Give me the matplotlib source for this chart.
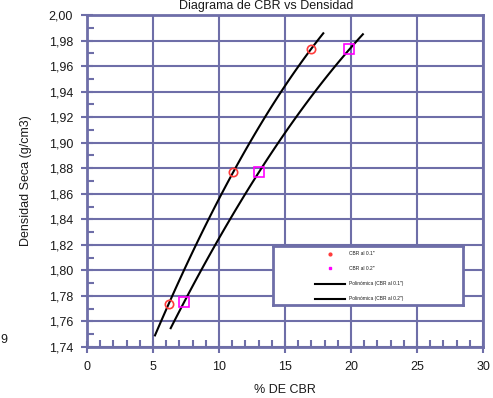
import numpy as np
import matplotlib.pyplot as plt
from matplotlib.ticker import MultipleLocator, FuncFormatter

# data
cbr_01 = [6.2, 11.08, 16.95]
dens_01 = [1.774, 1.877, 1.973]
cbr_02 = [7.35, 13.03, 19.87]
dens_02 = [1.775, 1.877, 1.973]
# extent of the trend lines (x from/to)
trend_01_range = [5.15, 17.9]
trend_02_range = [6.34, 20.9]

grid_col = '#6E6EA8'
plt.rcParams['font.family'] = ['Liberation Sans', 'DejaVu Sans']

fig = plt.figure(figsize=(4.93, 3.98), dpi=100)
ax = fig.add_axes([87/493, 1-347/398, (483-87)/493, (347-15)/398])

# polynomial (order 2) trend lines, like the spreadsheet ones
for xs, ys, rng in [(cbr_01, dens_01, trend_01_range), (cbr_02, dens_02, trend_02_range)]:
    c = np.polyfit(xs, ys, 2)
    xx = np.linspace(rng[0], rng[1], 100)
    ax.plot(xx, np.polyval(c, xx), color='black', lw=1.5, zorder=3)

ax.plot(cbr_01, dens_01, 'o', ms=6, mfc='none', mec='#FF3B3B', mew=1.2, zorder=4)
ax.plot(cbr_02, dens_02, 's', ms=7, mfc='none', mec='#FF00FF', mew=1.2, zorder=4)

ax.set_xlim(0, 30)
ax.set_ylim(1.74, 2.00)
ax.xaxis.set_major_locator(MultipleLocator(5))
ax.xaxis.set_minor_locator(MultipleLocator(1))
ax.yaxis.set_major_locator(MultipleLocator(0.02))
ax.yaxis.set_minor_locator(MultipleLocator(0.01))
ax.yaxis.set_major_formatter(FuncFormatter(lambda v, p: f'{v:.2f}'.replace('.', ',')))
ax.grid(True, which='major', color=grid_col, lw=1.5)
ax.set_axisbelow(True)
for s in ax.spines.values():
    s.set_color(grid_col)
    s.set_linewidth(2)
ax.tick_params(which='major', direction='inout', length=8, width=1.5, color=grid_col,
               labelsize=9, labelcolor='#1a1a1a', pad=6)
ax.tick_params(which='minor', direction='in', length=5, width=1.5, color=grid_col)

ax.set_xlabel('% DE CBR', fontsize=9, color='#1a1a1a', labelpad=8)
ax.set_ylabel('Densidad Seca (g/cm3)', fontsize=9, color='#1a1a1a', labelpad=12)

fig.text(0.54, 1.0, 'Diagrama de CBR vs Densidad', ha='center', va='top',
         fontsize=9, color='#1a1a1a')
fig.text(0.0, 1-340/398, '9', ha='left', va='center', fontsize=9, color='#1a1a1a')

# legend box drawn like the original (small markers, tiny text)
lax = fig.add_axes([273/493, 1-305/398, (463-273)/493, (305-246)/398])
lax.set_xlim(0, 1)
lax.set_ylim(0, 1)
lax.set_xticks([])
lax.set_yticks([])
for s in lax.spines.values():
    s.set_color(grid_col)
    s.set_linewidth(2)
labels = ['CBR al 0.1"', 'CBR al 0.2"', 'Polinómica (CBR al 0.1")', 'Polinómica (CBR al 0.2")']
ys = [0.87, 0.62, 0.36, 0.11]
lax.plot([0.30], [ys[0]], 'o', ms=2, color='#FF3B3B')
lax.plot([0.30], [ys[1]], 's', ms=2, color='#FF00FF')
lax.plot([0.22, 0.38], [ys[2]] * 2, color='black', lw=1.5)
lax.plot([0.22, 0.38], [ys[3]] * 2, color='black', lw=1.5)
for y, t in zip(ys, labels):
    lax.text(0.40, y, t, fontsize=3.5, va='center', ha='left', color='#1a1a1a')

fig.savefig('out.png', dpi=100)
